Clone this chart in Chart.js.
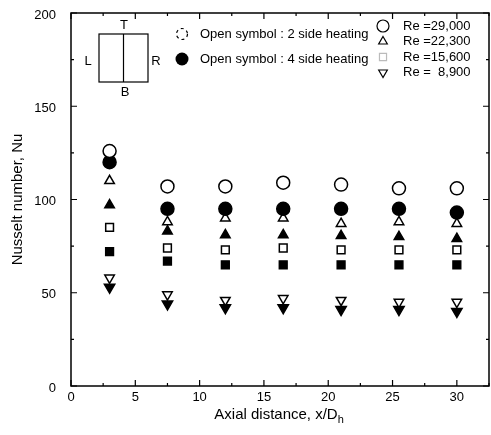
<!DOCTYPE html>
<html>
<head>
<meta charset="utf-8">
<script src="https://cdn.jsdelivr.net/npm/chart.js@4.4.1/dist/chart.umd.min.js"></script>
<style>
  html, body { margin: 0; padding: 0; background: #fff; }
  #wrap { width: 491px; height: 435px; }
</style>
</head>
<body>
<div id="wrap"><canvas id="nuChart" width="491" height="435"></canvas></div>
<script>
const xPositions = [3, 7.5, 12, 16.5, 21, 25.5, 30];

// open symbols = 2 side heating, filled = 4 side heating
const re29000_2side = [126, 107, 107, 109, 108, 106, 106];
const re29000_4side = [120, 95, 95, 95, 95, 95, 93];
const re22300_2side = [110, 88, 90, 90, 87, 88, 87];
const re22300_4side = [97, 83, 81, 81, 80.5, 80, 79];
const re15600_2side = [85, 74, 73, 74, 73, 73, 73];
const re15600_4side = [72, 67, 65, 65, 65, 65, 65];
const re8900_2side = [58, 49, 46, 47, 46, 45, 45];
const re8900_4side = [53, 44, 42, 42, 41, 41, 40];

const xTicks = [0, 5, 10, 15, 20, 25, 30];
const yTicks = [0, 50, 100, 150, 200];
const reLabels = ["Re =29,000", "Re =22,300", "Re =15,600", "Re =  8,900"];

const FONT = "Liberation Sans, Arial, sans-serif";

function pts(values) {
  return values.map((v, i) => ({ x: xPositions[i], y: v }));
}

function series(label, values, style, filled, radius, rotation) {
  return {
    label: label,
    data: pts(values),
    pointStyle: style,
    pointRadius: radius,
    pointRotation: rotation || 0,
    pointBackgroundColor: filled ? "#000" : "#fff",
    pointBorderColor: "#000",
    pointBorderWidth: 1.5,
    showLine: false,
  };
}

// inward ticks, tick labels, frame, legend box and axis titles
const decor = {
  id: "decor",
  afterDraw(chart) {
    const ctx = chart.ctx;
    const a = chart.chartArea;
    const xs = chart.scales.x;
    const ys = chart.scales.y;
    ctx.save();
    ctx.strokeStyle = "#000";
    ctx.lineWidth = 1.5;
    ctx.strokeRect(a.left, a.top, a.right - a.left, a.bottom - a.top);

    ctx.lineWidth = 1.2;
    for (let v = 0; v <= 32.5; v += 2.5) {
      const px = xs.getPixelForValue(v);
      const len = v % 5 === 0 ? 6 : 3;
      ctx.beginPath();
      ctx.moveTo(px, a.bottom); ctx.lineTo(px, a.bottom - len);
      ctx.moveTo(px, a.top); ctx.lineTo(px, a.top + len);
      ctx.stroke();
    }
    for (let v = 0; v <= 200; v += 25) {
      const py = ys.getPixelForValue(v);
      const len = v % 50 === 0 ? 6 : 3;
      ctx.beginPath();
      ctx.moveTo(a.left, py); ctx.lineTo(a.left + len, py);
      ctx.moveTo(a.right, py); ctx.lineTo(a.right - len, py);
      ctx.stroke();
    }

    // tick labels
    ctx.fillStyle = "#000";
    ctx.font = "13px " + FONT;
    ctx.textBaseline = "middle";
    ctx.textAlign = "center";
    xTicks.forEach((v) => ctx.fillText(String(v), xs.getPixelForValue(v), a.bottom + 11));
    ctx.textAlign = "right";
    yTicks.forEach((v) => ctx.fillText(String(v), a.left - 15, ys.getPixelForValue(v) + 2));

    // axis titles
    ctx.font = "15px " + FONT;
    ctx.textAlign = "left";
    const xt = "Axial distance, x/D";
    const w = ctx.measureText(xt).width;
    const cx = (a.left + a.right) / 2 - 4;
    ctx.fillText(xt, cx - w / 2, 415);
    ctx.font = "11px " + FONT;
    ctx.fillText("h", cx + w / 2, 420);

    ctx.font = "15px " + FONT;
    ctx.translate(18, (a.top + a.bottom) / 2);
    ctx.rotate(-Math.PI / 2);
    ctx.textAlign = "center";
    ctx.fillText("Nusselt number, Nu", 0, 0);
    ctx.setTransform(1, 0, 0, 1, 0, 0);

    // cross-section sketch
    ctx.lineWidth = 1.2;
    ctx.strokeRect(99, 34, 49, 48);
    ctx.beginPath(); ctx.moveTo(123.5, 34); ctx.lineTo(123.5, 82); ctx.stroke();
    ctx.font = "13px " + FONT;
    ctx.textAlign = "center";
    ctx.fillText("T", 124, 25);
    ctx.fillText("B", 125, 92);
    ctx.fillText("L", 88, 61);
    ctx.fillText("R", 156, 61);

    // heating legend
    ctx.textAlign = "left";
    ctx.setLineDash([3, 3]);
    ctx.lineWidth = 1.2;
    ctx.beginPath(); ctx.arc(182, 34, 5.5, 0, Math.PI * 2); ctx.stroke();
    ctx.setLineDash([]);
    ctx.beginPath(); ctx.arc(182, 59, 6.5, 0, Math.PI * 2); ctx.fill();
    ctx.fillText("Open symbol : 2 side heating", 200, 34);
    ctx.fillText("Open symbol : 4 side heating", 200, 59);

    // Reynolds legend
    const symbols = [
      { pointStyle: "circle", radius: 6, rotation: 0 },
      { pointStyle: "triangle", radius: 5, rotation: 0 },
      { pointStyle: "rect", radius: 5, rotation: 0 },
      { pointStyle: "triangle", radius: 5, rotation: 180 },
    ];
    reLabels.forEach((lab, i) => {
      const yy = 26 + i * 15.5;
      ctx.fillStyle = "#fff";
      ctx.strokeStyle = i === 2 ? "#bbb" : "#000";
      ctx.lineWidth = 1.2;
      Chart.helpers.drawPoint(ctx, { pointStyle: symbols[i].pointStyle, radius: symbols[i].radius, rotation: symbols[i].rotation, borderWidth: 1.2 }, 383, yy);
      ctx.fillStyle = "#000";
      ctx.fillText(lab, 403, yy);
    });
    ctx.restore();
  },
};

new Chart(document.getElementById("nuChart"), {
  type: "scatter",
  data: {
    datasets: [
      series("Re=29,000 2 side", re29000_2side, "circle", false, 6.5),
      series("Re=29,000 4 side", re29000_4side, "circle", true, 6.5),
      series("Re=22,300 2 side", re22300_2side, "triangle", false, 5.5),
      series("Re=22,300 4 side", re22300_4side, "triangle", true, 5.5),
      series("Re=15,600 2 side", re15600_2side, "rect", false, 5.5),
      series("Re=15,600 4 side", re15600_4side, "rect", true, 5.5),
      series("Re=8,900 2 side", re8900_2side, "triangle", false, 5.5, 180),
      series("Re=8,900 4 side", re8900_4side, "triangle", true, 6, 180),
    ],
  },
  options: {
    responsive: false,
    animation: false,
    layout: { autoPadding: false, padding: { left: 0, right: 2, top: 13, bottom: 0 } },
    plugins: {
      legend: { display: false },
      tooltip: { enabled: false },
    },
    scales: {
      x: {
        type: "linear",
        min: 0,
        max: 32.5,
        afterFit(scale) { scale.height = 49; },
        grid: { display: false, drawTicks: false },
        border: { display: false },
        ticks: { display: false },
      },
      y: {
        type: "linear",
        min: 0,
        max: 200,
        afterFit(scale) { scale.width = 71; },
        grid: { display: false, drawTicks: false },
        border: { display: false },
        ticks: { display: false },
      },
    },
  },
  plugins: [decor],
});
</script>
</body>
</html>
